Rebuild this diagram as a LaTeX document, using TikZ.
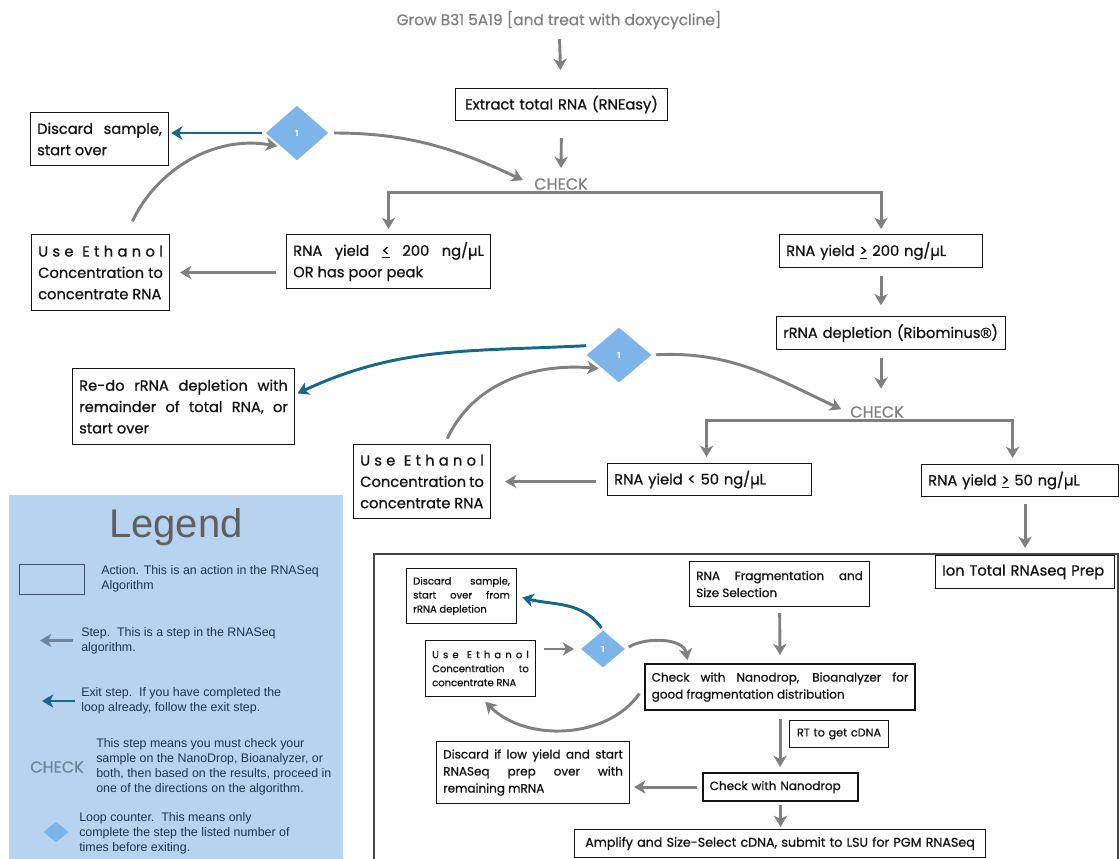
\documentclass[tikz,border=0pt]{standalone}
\usepackage{fontspec}
\usetikzlibrary{arrows.meta,shapes.geometric}
\newfontfamily\flowfamily[FakeBold=0.8]{Poppins}
\newfontfamily\legendfamily{Liberation Sans}
\newfontfamily\markfamily[FakeBold=0.8]{Liberation Sans}
\definecolor{ink}{RGB}{20,20,20}
\definecolor{arrowgray}{RGB}{128,128,128}
\definecolor{titlegray}{RGB}{128,128,128}
\definecolor{framegray}{RGB}{70,70,70}
\definecolor{exitteal}{RGB}{22,104,138}
\definecolor{loopblue}{RGB}{125,181,234}
\definecolor{legendbg}{RGB}{184,211,240}
\definecolor{legendink}{RGB}{30,50,85}
\definecolor{legendgray}{RGB}{110,132,155}
\definecolor{legendtitle}{RGB}{95,95,95}
\newcommand\flowbig{\flowfamily\fontsize{11}{16}\selectfont}
\newcommand\flowmid{\flowfamily\fontsize{9}{12.75}\selectfont}
\newcommand\flowsmall{\flowfamily\fontsize{7.5}{10.5}\selectfont}
\newcommand\legendtext{\legendfamily\fontsize{9.3}{11.25}\selectfont}
\newcommand\ulless{\underline{<}}
\newcommand\ulmore{\underline{>}}
\newcommand\regmark{{\markfamily ®}}
\newcommand\spreadethanol{\makebox[\linewidth][s]{U\hfill s\hfill e\hfill\hfill E\hfill t\hfill h\hfill a\hfill n\hfill o\hfill l}}
\tikzset{
  >={Stealth[length=8.5pt,width=10pt,inset=2.5pt]},
  flow/.style={->,line width=2.2pt,draw=#1},
  flow/.default=arrowgray,
  stepbox/.style={draw=ink,line width=0.8pt,fill=white,anchor=north west,align=justify,
    inner xsep=5pt,inner ysep=2pt,font=\flowbig,text=ink},
  thickbox/.style={stepbox,line width=1.6pt},
  check/.style={text=arrowgray,font=\flowfamily\fontsize{12}{12}\selectfont,inner sep=2pt},
  counter/.style={diamond,fill=loopblue,inner sep=0pt,text=white,
    font=\flowfamily\fontsize{6}{6}\selectfont\bfseries},
  legendnote/.style={anchor=west,align=left,font=\legendtext,text=legendink,inner sep=0pt},
}
\begin{document}
\begin{tikzpicture}[x=0.75pt,y=0.75pt]
\useasboundingbox (0,0) rectangle (1120,-859);

% legend panel
\fill[legendbg] (9,-495) rectangle (343,-870);
\node[font=\legendfamily\fontsize{30}{30}\selectfont,text=legendtitle] (legTitle) at (176,-527) {Legend};
\node[draw=legendink!85,line width=0.8pt,anchor=north west,minimum width=48.75pt,minimum height=22.5pt,inner sep=0pt] (legAct) at (19,-564) {};
\node[legendnote] (legActTxt) at (101,-578.5) {Action. This is an action in the RNASeq\\Algorithm};
\node[legendnote] (legStepTxt) at (81,-640.5) {Step.\ \ This is a step in the RNASeq\\algorithm.};
\node[legendnote] (legExitTxt) at (81,-701) {Exit step.\ \ If you have completed the\\loop already, follow the exit step.};
\node[check,text=legendgray] (legChk) at (57,-767) {CHECK};
\node[legendnote] (legChkTxt) at (96,-767) {This step means you must check your\\sample on the NanoDrop, Bioanalyzer, or\\both, then based on the results, proceed in\\one of the directions on the algorithm.};
\node[counter,minimum width=18.75pt,minimum height=15.75pt] (legLoop) at (56,-832) {};
\node[legendnote] (legLoopTxt) at (79,-833) {Loop counter.\ \ This means only\\complete the step the listed number of\\times before exiting.};
\draw[flow=legendgray,shorten <=6pt] (legStepTxt.west) -- ++(-41,0);
\draw[flow=exitteal,shorten <=4.5pt] (legExitTxt.west) -- ++(-39,0);

% first check
\node[font=\flowfamily\fontsize{11.5}{14}\selectfont,text=titlegray] (grow) at (559,-20) {Grow B31 5A19 [and treat with doxycycline]};
\node[stepbox,align=center,text width=149pt,minimum height=24pt] (extract) at (455,-88) {Extract total RNA (RNEasy)};
\node[check] (chk1) at (561,-184) {CHECK};
\node[counter,minimum width=47pt,minimum height=41pt] (d1) at (297,-133) {1};
\node[stepbox,text width=93.5pt,minimum height=39.75pt] (discard1) at (30,-112) {Discard sample,\linebreak start over};
\node[stepbox,text width=93.5pt,minimum height=57pt] (ethanol1) at (31,-234) {\spreadethanol\linebreak Concentration to\linebreak concentrate RNA};
\node[stepbox,text width=143pt,minimum height=40.5pt] (low200) at (286,-234) {RNA yield \ulless{} 200 ng/µL\linebreak OR has poor peak};
\node[stepbox,align=left,text width=142.25pt,minimum height=24.75pt] (high200) at (779,-234) {RNA yield \ulmore{} 200 ng/µL};

% second check
\node[stepbox,align=left,text width=161.75pt,minimum height=24.75pt] (ribo) at (776,-316) {rRNA depletion (Ribominus\regmark)};
\node[check] (chk2) at (877,-412) {CHECK};
\node[counter,minimum width=48.75pt,minimum height=41.25pt] (d2) at (619,-355) {1};
\node[stepbox,text width=156.5pt,minimum height=57pt] (redo) at (72,-368) {Re-do rRNA depletion with\linebreak remainder of total RNA, or\linebreak start over};
\node[stepbox,text width=92.75pt,minimum height=55.5pt] (ethanol2) at (353,-444) {\spreadethanol\linebreak Concentration to\linebreak concentrate RNA};
\node[stepbox,align=left,text width=143pt,minimum height=24pt] (low50) at (607,-463) {RNA yield < 50 ng/µL};
\node[stepbox,align=left,text width=137.75pt,minimum height=24pt] (high50) at (921,-464) {RNA yield \ulmore{} 50 ng/µL};

% library prep frame
\draw[framegray,line width=0.8pt] (374,-554) rectangle (1118,-880);
\node[stepbox,align=left,text width=124.25pt,minimum height=24.75pt] (ion) at (935,-555) {Ion Total RNAseq Prep};
\node[stepbox,font=\flowmid,text width=125pt,minimum height=33.75pt] (frag) at (689,-561) {RNA Fragmentation and\linebreak Size Selection};
\node[thickbox,font=\flowmid,text width=192.5pt,minimum height=34.5pt] (checkNB) at (644,-663) {Check with Nanodrop, Bioanalyzer for\linebreak good fragmentation distribution};
\node[stepbox,font=\flowsmall,text width=72.5pt,minimum height=41.25pt] (discard3) at (406,-568) {Discard sample,\linebreak start over from\linebreak rRNA depletion};
\node[stepbox,font=\flowsmall,text width=72.5pt,minimum height=42pt] (ethanol3) at (425,-640) {\spreadethanol\linebreak Concentration to\linebreak concentrate RNA};
\node[counter,minimum width=33pt,minimum height=27.75pt] (d3) at (603,-649) {1};
\node[stepbox,font=\flowmid,text width=134.75pt,minimum height=46.5pt] (discard4) at (436,-741) {Discard if low yield and start\linebreak RNASeq prep over with\linebreak remaining mRNA};
\node[stepbox,font=\flowfamily\fontsize{8.4}{10}\selectfont,align=center,text width=64.25pt,minimum height=20.25pt] (rt) at (789,-720) {RT to get cDNA};
\node[thickbox,font=\flowmid,align=left,text width=106.25pt,minimum height=21pt] (checkN) at (702,-772) {Check with Nanodrop};
\node[stepbox,font=\flowfamily\fontsize{9.5}{12}\selectfont,align=center,text width=298.25pt,minimum height=21pt] (amplify) at (574,-829) {Amplify and Size-Select cDNA, submit to LSU for PGM RNASeq};

% steps
\draw[flow,shorten <=4pt,shorten >=13.5pt] (grow) -- (extract);
\draw[flow,shorten <=12.75pt,shorten >=5.5pt] (extract) -- (chk1);
\draw[flow,shorten >=3.75pt] (chk1.south) -| (low200.north);
\draw[flow,shorten >=3.75pt] (chk1.south) -| (high200.north);
\draw[flow,shorten <=7.5pt,shorten >=7.5pt] (low200.west |- ethanol1.east) -- (ethanol1.east);
\draw[flow,shorten <=10.5pt,shorten >=3pt] ([xshift=19.5pt]ethanol1.north) to[out=65,in=170] (d1.south west);
\draw[flow=exitteal,shorten <=2.6pt,shorten >=1.5pt] (d1.west) -- (d1.west -| discard1.east);
\draw[flow,shorten <=4pt,shorten >=7pt] (d1.east) to[out=0,in=155] (chk1.west);
\draw[flow,shorten <=6pt,shorten >=8pt] (high200.south) -- (high200.south |- ribo.north);
\draw[flow,shorten <=6pt,shorten >=11pt] (high200.south |- ribo.south) -- (high200.south |- chk2.north);
\draw[flow,shorten >=4.5pt] (chk2.south) -| ([xshift=-2.25pt]low50.north);
\draw[flow,shorten >=4.5pt] (chk2.south) -| ([xshift=-5.6pt]high50.north);
\draw[flow,shorten <=5.25pt,shorten >=5.25pt] (ion.north |- high50.south) -- (ion.north);
\draw[flow,shorten <=8.25pt,shorten >=10.5pt] (low50.west |- ethanol2.east) -- (ethanol2.east);
\draw[flow,shorten <=4.5pt,shorten >=3pt] ([xshift=17pt]ethanol2.north) to[out=65,in=175] (d2.south west);
\draw[flow=exitteal,shorten >=2pt] ([yshift=7pt]d2.west) to[out=183,in=25] ([yshift=9pt]redo.east);
\draw[flow,shorten <=3pt,shorten >=5pt] (d2.east) to[out=3,in=155] (chk2.west);
\draw[flow,shorten <=4.5pt,shorten >=6pt] (frag) -- (checkNB);
\draw[flow,shorten <=6pt,shorten >=3.75pt] (checkNB.south) -- (checkNB.south |- checkN.north);
\draw[flow,shorten <=2pt,shorten >=1.5pt] (checkN.south) -- (checkN.south |- amplify.north);
\draw[flow,shorten <=4pt,shorten >=3pt] (checkN.west) -- (checkN.west -| discard4.east);
\draw[flow,shorten <=6pt,shorten >=5pt] (d3.west -| ethanol3.east) -- (d3.west);
\draw[flow=exitteal,shorten <=2pt,shorten >=4pt] (d3.north) to[out=125,in=-15] (discard3.east);
\draw[flow,shorten <=3pt,shorten >=2.25pt] (d3.east) to[out=30,in=100] ([xshift=33pt]checkNB.north west);
\draw[flow,shorten <=6pt,shorten >=5pt] (checkNB.west) to[out=235,in=-45] (ethanol3.south);
\end{tikzpicture}
\end{document}
